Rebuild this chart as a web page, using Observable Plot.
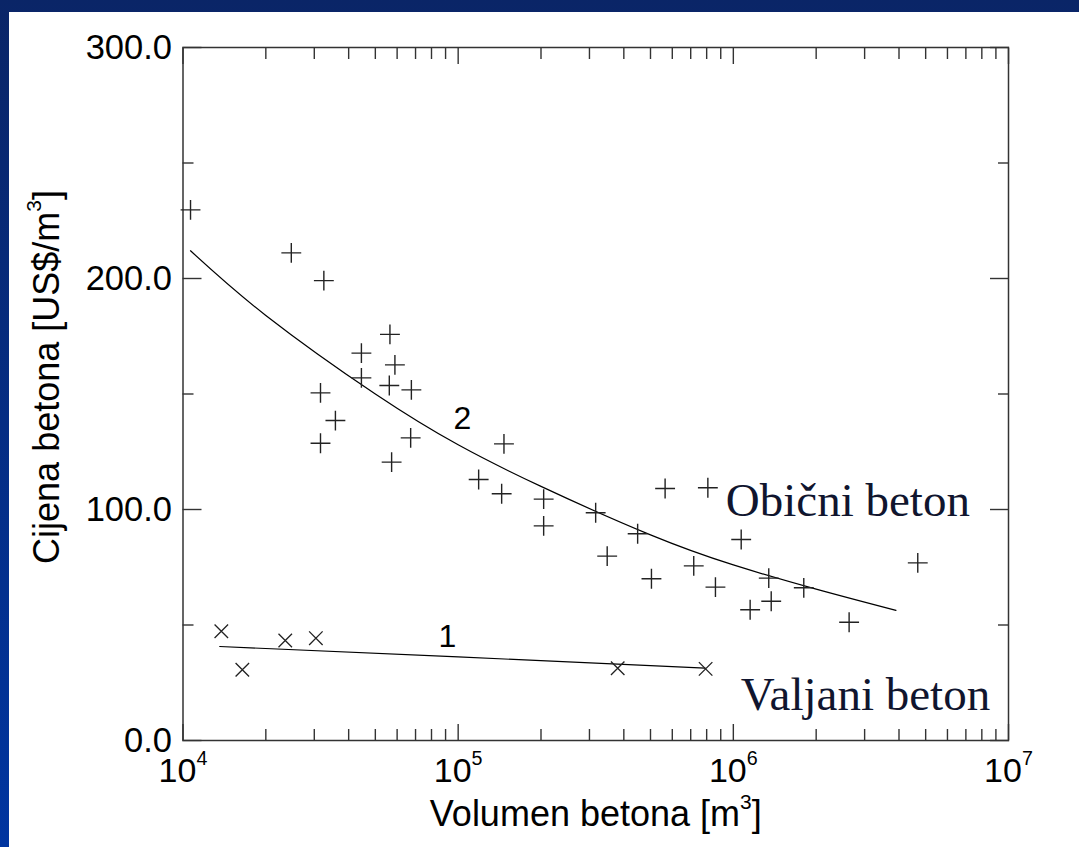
<!DOCTYPE html>
<html>
<head>
<meta charset="utf-8">
<script src="https://cdn.jsdelivr.net/npm/d3@7"></script>
<script src="https://cdn.jsdelivr.net/npm/@observablehq/plot@0.6"></script>
<style>
  html, body { margin: 0; padding: 0; }
  body { width: 1079px; height: 847px; overflow: hidden; position: relative;
         background: linear-gradient(#0a2567, #0035a0); }
  #panel { position: absolute; left: 9px; top: 12px; width: 1070px; height: 835px; background: #fff; }
</style>
</head>
<body>
<div id="panel"></div>
<script>
// ---- Data ----
// Ordinary concrete (plus markers): volume [m3], cost [US$/m3]
const plusVolume = [1.065e4, 2.475e4, 3.25e4, 5.65e4, 4.45e4, 5.89e4, 4.45e4, 5.62e4, 6.76e4, 3.16e4,
                    3.58e4, 3.16e4, 6.72e4, 5.73e4, 1.467e5, 1.187e5, 1.439e5, 2.045e5, 2.045e5, 3.16e5,
                    3.48e5, 4.49e5, 5.04e5, 5.65e5, 7.18e5, 8.08e5, 8.61e5, 1.068e6, 1.151e6, 1.345e6,
                    1.373e6, 1.803e6, 2.635e6, 4.68e6];
const plusCost   = [229.7, 211.1, 199.1, 175.8, 167.7, 162.6, 157.0, 153.7, 151.8, 150.5,
                    138.5, 128.7, 131.0, 120.5, 128.4, 113.0, 106.8, 104.5, 92.9, 98.6,
                    79.8, 89.5, 70.0, 109.1, 75.6, 109.4, 66.4, 87.0, 56.6, 70.3,
                    60.3, 66.1, 51.2, 76.9];
// Roller-compacted concrete (times markers)
const timesVolume = [1.378e4, 1.643e4, 2.353e4, 3.04e4, 3.8e5, 7.93e5];
const timesCost   = [47.3, 30.6, 43.3, 44.3, 31.3, 31.0];
// Trend curve 2 (ordinary concrete)
const curve2Volume = [1.065e4, 2e4, 5e4, 1e5, 2e5, 5e5, 1e6, 2e6, 3.9e6];
const curve2Cost   = [212, 184, 150, 128, 110, 89, 76, 65.5, 56.3];
// Trend line 1 (roller-compacted concrete)
const curve1Volume = [1.36e4, 1e5, 7.9e5];
const curve1Cost   = [40.7, 36.2, 31.3];

// Axes
const xMajorTicks = [1e4, 1e5, 1e6, 1e7];
const xTickLabels = ["10^4", "10^5", "10^6", "10^7"];
const xMinorTicks = [2,3,4,5,6,7,8,9].flatMap(m => [1e4, 1e5, 1e6].map(d => m * d));
const yMajorTicks = [0, 100, 200, 300];
const yTickLabels = ["0.0", "100.0", "200.0", "300.0"];
const yMinorTicks = [50, 150, 250];
const xTitle = "Volumen betona [m^3]";
const yTitle = "Cijena betona [US$/m^3]";

// Annotations
const curveLabels = [
  {x: 1.036e5, y: 139.3, text: "2"},
  {x: 9.13e4, y: 44.7, text: "1"}
];
const seriesLabels = [
  {x: 9.39e5, y: 97.0, text: "Obični beton"},
  {x: 1.065e6, y: 13.0, text: "Valjani beton"}
];

// ---- Build tables ----
const plusData = plusVolume.map((v, i) => ({x: v, y: plusCost[i]}));
const timesData = timesVolume.map((v, i) => ({x: v, y: timesCost[i]}));
const curve2 = curve2Volume.map((v, i) => ({x: v, y: curve2Cost[i]}));
const curve1 = curve1Volume.map((v, i) => ({x: v, y: curve1Cost[i]}));

const ink = "#222";
const tickStroke = "#333";

const chart = Plot.plot({
  width: 1070,
  height: 835,
  marginLeft: 173.5,
  marginTop: 35,
  marginRight: 71,
  marginBottom: 107,
  style: {fontFamily: "'Liberation Sans', Arial, sans-serif", fontSize: "33px", color: "#000", background: "#fff"},
  x: {type: "log", domain: [1e4, 1e7], label: null},
  y: {domain: [0, 300], label: null},
  marks: [
    // ticks (inward) on all four sides
    Plot.axisX(xMajorTicks, {anchor: "bottom", tickSize: -16, fill: "none", label: null, stroke: tickStroke, strokeWidth: 1.4}),
    Plot.axisX(xMinorTicks, {anchor: "bottom", tickSize: -11, fill: "none", label: null, stroke: tickStroke, strokeWidth: 1.4}),
    Plot.axisX(xMajorTicks, {anchor: "top", tickSize: -16, fill: "none", label: null, stroke: tickStroke, strokeWidth: 1.4}),
    Plot.axisX(xMinorTicks, {anchor: "top", tickSize: -11, fill: "none", label: null, stroke: tickStroke, strokeWidth: 1.4}),
    Plot.axisY(yMajorTicks, {anchor: "left", tickSize: -19, fill: "none", label: null, stroke: tickStroke, strokeWidth: 1.4}),
    Plot.axisY(yMinorTicks, {anchor: "left", tickSize: -11, fill: "none", label: null, stroke: tickStroke, strokeWidth: 1.4}),
    Plot.axisY(yMajorTicks, {anchor: "right", tickSize: -19, fill: "none", label: null, stroke: tickStroke, strokeWidth: 1.4}),
    Plot.axisY(yMinorTicks, {anchor: "right", tickSize: -11, fill: "none", label: null, stroke: tickStroke, strokeWidth: 1.4}),
    // tick labels
    Plot.axisX(xMajorTicks, {anchor: "bottom", tickSize: 0, tickPadding: 17, label: null, fontSize: 34,
      tickFormat: d => xTickLabels[xMajorTicks.indexOf(d)], fill: "#000"}),
    Plot.axisY(yMajorTicks, {anchor: "left", tickSize: 0, tickPadding: 11, label: null, fontSize: 34.5,
      tickFormat: d => yTickLabels[yMajorTicks.indexOf(d)], fill: "#000"}),
    // axis titles
    Plot.text([xTitle], {frameAnchor: "bottom", dy: 74, fontSize: 36, fill: "#000", text: d => d,
      textAnchor: "middle", lineAnchor: "middle"}),
    Plot.text([yTitle], {frameAnchor: "left", dx: -136, dy: -17, rotate: -90, fontSize: 36, fill: "#000", text: d => d,
      textAnchor: "middle", lineAnchor: "middle"}),
    // frame
    Plot.frame({stroke: "#333", strokeWidth: 1.5}),
    // trend curves
    Plot.line(curve2, {x: "x", y: "y", curve: "natural", stroke: "#000", strokeWidth: 1.2}),
    Plot.line(curve1, {x: "x", y: "y", stroke: "#000", strokeWidth: 1.2}),
    // data points
    Plot.dot(plusData, {x: "x", y: "y", symbol: "plus", r: 6.45, stroke: ink, strokeWidth: 1.4}),
    Plot.dot(timesData, {x: "x", y: "y", symbol: "times", r: 6.2, stroke: ink, strokeWidth: 1.3}),
    // annotations
    Plot.text(curveLabels, {x: "x", y: "y", text: "text", fontSize: 32, fill: "#000"}),
    Plot.text(seriesLabels, {x: "x", y: "y", text: "text", fontSize: 47, textAnchor: "start", lineAnchor: "bottom",
      fontFamily: "'Liberation Serif', 'Times New Roman', serif", fill: "#10152e"})
  ]
});

document.getElementById("panel").appendChild(chart);

// Render "^n" as a real superscript tspan
const NS = "http://www.w3.org/2000/svg";
chart.querySelectorAll("text").forEach(t => {
  const s = t.textContent;
  const i = s.indexOf("^");
  if (i < 0) return;
  const base = s.slice(0, i), exp = s[i + 1], rest = s.slice(i + 2);
  let fs = parseFloat(t.getAttribute("font-size")) || parseFloat(getComputedStyle(t).fontSize) || 33;
  while (t.firstChild) t.removeChild(t.firstChild);
  t.appendChild(document.createTextNode(base));
  const sup = document.createElementNS(NS, "tspan");
  sup.setAttribute("dy", (-0.48 * fs).toFixed(1));
  sup.setAttribute("font-size", (0.58 * fs).toFixed(1));
  sup.textContent = exp;
  t.appendChild(sup);
  if (rest) {
    const r = document.createElementNS(NS, "tspan");
    r.setAttribute("dy", (0.48 * fs).toFixed(1));
    r.textContent = rest;
    t.appendChild(r);
  }
});
</script>
</body>
</html>
